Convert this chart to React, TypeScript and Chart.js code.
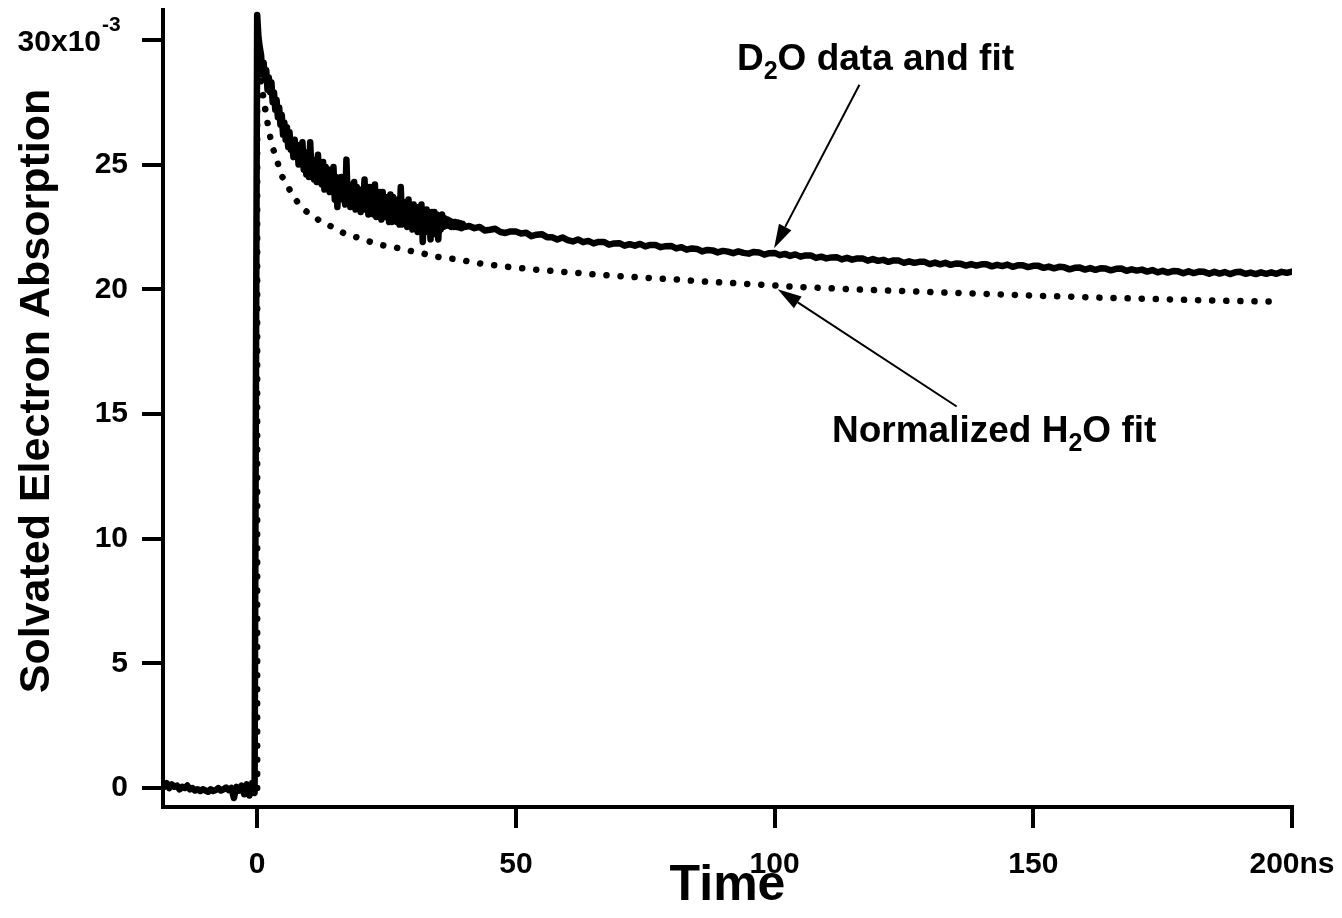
import { useEffect, useRef } from 'react';
import { Chart, registerables } from 'chart.js';
Chart.register(...registerables);

// Absorption values are in units of 1e-3
const baselineStart = -18;
const baselineStep = 0.5;
const baselineValues = [
  0.05, 0.2, 0.0, 0.15, 0.05, 0.1, -0.05, 0.05, 0.0, 0.1, -0.05, 0.0,
  -0.1, -0.05, -0.12, -0.05, -0.1, -0.15, -0.05, -0.12, -0.08, 0.0, -0.1, -0.05,
  0.02, -0.08, 0.0, -0.4, 0.05, -0.1, 0.1, -0.25, 0.15, -0.3, 0.2, -0.2,
];

const earlyStart = 0;
const earlyStep = 0.25;
const earlyValues = [
  31.0, 30.1, 29.7, 29.4,
  28.6, 29.1, 28.4, 28.8,
  28.0, 28.5, 27.9, 28.3,
  27.5, 27.9, 27.2, 27.6,
  26.9, 27.3, 26.6, 27.0,
  26.2, 26.7, 26.0, 26.5,
  25.7, 26.3, 25.6, 26.0,
  25.3, 26.0, 25.4, 25.8,
  25.0, 25.7, 25.1, 25.9,
  24.8, 25.5, 24.6, 25.3,
  24.5, 25.9, 24.7, 25.2,
  24.4, 25.0, 24.3, 25.4,
  24.3, 24.9, 24.2, 25.1,
  24.0, 24.9, 24.1, 24.8,
  23.9, 24.7, 24.0, 24.9,
  23.6, 24.5, 23.3, 24.4,
  23.6, 24.5, 23.7, 24.3,
  23.4, 25.2, 23.5, 24.2,
  23.3, 24.2, 23.4, 24.3,
  23.2, 24.1, 23.3, 24.0,
  23.1, 24.0, 23.3, 24.4,
  23.2, 23.9, 23.0, 24.1,
  23.1, 23.9, 23.0, 24.2,
  22.9, 23.8, 23.0, 23.9,
  22.8, 23.9, 22.9, 23.7,
  22.9, 23.6, 22.7, 23.8,
  22.7, 23.7, 22.8, 23.5,
  22.7, 23.6, 22.6, 24.1,
  22.6, 23.5, 22.8, 23.4,
  22.5, 23.6, 22.7, 23.3,
  22.4, 23.4, 22.6, 23.3,
  22.3, 23.2, 22.5, 23.4,
  21.9, 23.1, 22.4, 23.2,
  22.3, 23.0, 22.0, 23.1,
  22.2, 23.1, 22.3, 23.0,
  22.0, 22.9, 22.4, 23.0,
  22.5, 22.85, 22.55, 22.8,
  22.55, 22.75, 22.5, 22.7,
  22.5, 22.7, 22.5, 22.68,
  22.48, 22.65, 22.45, 22.62,
  22.5,
];

const lateStart = 41;
const lateStep = 1;
const lateValues = [
  22.54, 22.45, 22.5, 22.36, 22.39, 22.43, 22.3, 22.26, 22.32, 22.32,
  22.24, 22.27, 22.13, 22.19, 22.21, 22.09, 22.09, 22.0, 22.08, 21.97,
  21.92, 22.0, 21.89, 21.94, 21.84, 21.9, 21.9, 21.79, 21.84, 21.85,
  21.75, 21.81, 21.75, 21.82, 21.72, 21.78, 21.78, 21.69, 21.73, 21.74,
  21.64, 21.69, 21.59, 21.64, 21.62, 21.52, 21.58, 21.56, 21.48, 21.54,
  21.51, 21.45, 21.52, 21.46, 21.43, 21.5, 21.48, 21.39, 21.45, 21.46,
  21.37, 21.42, 21.34, 21.4, 21.31, 21.36, 21.36, 21.26, 21.31, 21.24,
  21.28, 21.29, 21.2, 21.26, 21.19, 21.24, 21.24, 21.15, 21.21, 21.14,
  21.18, 21.1, 21.16, 21.15, 21.06, 21.12, 21.06, 21.1, 21.1, 21.01,
  21.07, 21.0, 21.06, 20.98, 21.03, 21.02, 20.95, 21.01, 20.95, 21.0,
  21.0, 20.92, 20.98, 20.93, 20.99, 20.9, 20.96, 20.96, 20.89, 20.94,
  20.94, 20.86, 20.91, 20.84, 20.9, 20.88, 20.8, 20.86, 20.87, 20.79,
  20.85, 20.78, 20.84, 20.83, 20.76, 20.82, 20.83, 20.74, 20.8, 20.75,
  20.79, 20.71, 20.77, 20.68, 20.74, 20.67, 20.73, 20.72, 20.64, 20.72,
  20.65, 20.71, 20.7, 20.62, 20.7, 20.63, 20.69, 20.61, 20.68, 20.7,
  20.62, 20.67, 20.61, 20.68, 20.62, 20.68, 20.62, 20.7, 20.66, 20.71,
];

const fitTime = [
  0, 0, 0.3, 0.7, 1.2, 1.8, 2.8, 3.8, 4.6, 6, 6.9, 8.5, 10.2, 12.5, 15, 17.2,
  20, 22.2, 24.4, 26.7, 29, 31.5, 33.8, 38.7, 43.5, 48.5, 54.2, 60.5, 66, 73.7,
  79.7, 85.7, 91, 98.8, 104, 109.7, 115, 120.7, 126.3, 131.5, 137.3, 142.7,
  151, 156.6, 162, 168, 173.7, 178.3, 186.8, 192, 198,
];
const fitValue = [
  0, 30.0, 29.0, 28.3, 27.7, 26.9, 25.8, 25.2, 24.6, 24.1, 23.75, 23.3, 23.0, 22.7, 22.45, 22.2,
  22.04, 21.88, 21.76, 21.68, 21.56, 21.47, 21.33, 21.2, 21.02, 20.9, 20.78, 20.68, 20.58, 20.48,
  20.41, 20.32, 20.26, 20.17, 20.1, 20.05, 20.0, 19.96, 19.92, 19.88, 19.84, 19.8,
  19.74, 19.71, 19.67, 19.64, 19.61, 19.58, 19.54, 19.52, 19.5,
];

const xTicks = [0, 50, 100, 150, 200];
const xTickLabels = ['0', '50', '100', '150', '200ns'];
const yTicks = [0, 5, 10, 15, 20, 25, 30];
const yTickLabels = ['0', '5', '10', '15', '20', '25', ''];

const FONT = "'Liberation Sans', Arial, Helvetica, sans-serif";

function segment(start: number, step: number, values: number[]) {
  return values.map((v, i) => ({ x: start + i * step, y: v }));
}

type Part = { text: string; size: number; dy: number };

function drawRich(ctx: CanvasRenderingContext2D, parts: Part[], x: number, y: number) {
  let cx = x;
  for (const p of parts) {
    ctx.font = `bold ${p.size}px ${FONT}`;
    ctx.fillText(p.text, cx, y + p.dy);
    cx += ctx.measureText(p.text).width;
  }
}

function drawArrow(ctx: CanvasRenderingContext2D, x1: number, y1: number, x2: number, y2: number) {
  const ang = Math.atan2(y2 - y1, x2 - x1);
  const len = 24;
  const half = 7;
  const bx = x2 - len * Math.cos(ang);
  const by = y2 - len * Math.sin(ang);
  ctx.beginPath();
  ctx.moveTo(x1, y1);
  ctx.lineTo(bx, by);
  ctx.lineWidth = 2;
  ctx.strokeStyle = '#000';
  ctx.stroke();
  ctx.beginPath();
  ctx.moveTo(x2, y2);
  ctx.lineTo(bx + half * Math.sin(ang), by - half * Math.cos(ang));
  ctx.lineTo(bx - half * Math.sin(ang), by + half * Math.cos(ang));
  ctx.closePath();
  ctx.fillStyle = '#000';
  ctx.fill();
}

const annotationPlugin = {
  id: 'annotations',
  afterDraw(chart: any) {
    const ctx: CanvasRenderingContext2D = chart.ctx;
    const xs = chart.scales.x;
    const ys = chart.scales.y;
    const area = chart.chartArea;
    ctx.save();
    ctx.fillStyle = '#000';
    ctx.textAlign = 'left';
    ctx.textBaseline = 'alphabetic';

    // top y tick label with exponent
    const y30 = ys.getPixelForValue(30);
    ctx.font = `bold 30px ${FONT}`;
    ctx.textAlign = 'right';
    ctx.fillText('30x10', 101, y30 + 11);
    ctx.textAlign = 'left';
    ctx.font = `bold 21px ${FONT}`;
    ctx.fillText('-3', 102, y30 - 9);

    // y title
    ctx.save();
    ctx.translate(49, 391);
    ctx.rotate(-Math.PI / 2);
    ctx.font = `bold 43px ${FONT}`;
    ctx.textAlign = 'center';
    ctx.fillText('Solvated Electron Absorption', 0, 0);
    ctx.restore();

    // x title
    ctx.font = `bold 50px ${FONT}`;
    ctx.textAlign = 'center';
    ctx.fillText('Time', (area.left + area.right) / 2, 900);
    ctx.textAlign = 'left';

    // annotations
    drawRich(ctx, [
      { text: 'D', size: 37, dy: 0 },
      { text: '2', size: 25, dy: 9 },
      { text: 'O data and fit', size: 37, dy: 0 },
    ], 737, 70);
    drawRich(ctx, [
      { text: 'Normalized H', size: 37, dy: 0 },
      { text: '2', size: 25, dy: 9 },
      { text: 'O fit', size: 37, dy: 0 },
    ], 832, 442);

    drawArrow(ctx, xs.getPixelForValue(116.4), ys.getPixelForValue(28.2), xs.getPixelForValue(99.9), ys.getPixelForValue(21.65));
    drawArrow(ctx, xs.getPixelForValue(135.2), ys.getPixelForValue(15.3), xs.getPixelForValue(100.6), ys.getPixelForValue(20.0));
    ctx.restore();
  },
};

export default function App() {
  const ref = useRef<HTMLCanvasElement | null>(null);
  useEffect(() => {
    document.body.style.margin = '0';
    const canvas = ref.current!;
    const d2o = [
      ...segment(baselineStart, baselineStep, baselineValues),
      ...segment(earlyStart, earlyStep, earlyValues),
      ...segment(lateStart, lateStep, lateValues),
    ];
    const fit = fitTime.map((t, i) => ({ x: t, y: fitValue[i] }));
    const tickFont = { family: FONT, size: 30, weight: 'bold' as const };
    const chart = new Chart(canvas, {
      type: 'line',
      data: {
        datasets: [
          {
            label: 'D2O data and fit',
            data: d2o,
            borderColor: '#000',
            borderWidth: 6.5,
            pointRadius: 0,
            tension: 0,
            borderJoinStyle: 'round',
            borderCapStyle: 'round',
          },
          {
            label: 'Normalized H2O fit',
            data: fit,
            borderColor: '#000',
            borderWidth: 6.5,
            pointRadius: 0,
            tension: 0,
            borderDash: [0.1, 14],
            borderCapStyle: 'round',
          },
        ],
      },
      options: {
        animation: false,
        responsive: false,
        maintainAspectRatio: false,
        layout: { padding: { top: 10, right: 50, left: 0, bottom: 0 } },
        plugins: { legend: { display: false }, tooltip: { enabled: false } },
        scales: {
          x: {
            type: 'linear',
            min: -18.2,
            max: 200,
            afterBuildTicks: (s: any) => { s.ticks = xTicks.map((v) => ({ value: v })); },
            afterFit: (s: any) => { s.height = 111; s.paddingLeft = 0; s.paddingRight = 0; },
            grid: { drawOnChartArea: false, drawTicks: true, tickLength: 21, lineWidth: 4, color: '#000' },
            border: { display: true, width: 4, color: '#000' },
            ticks: {
              font: tickFont,
              color: '#000',
              padding: 19,
              maxRotation: 0,
              autoSkip: false,
              callback: (v: any) => xTickLabels[xTicks.indexOf(Number(v))] ?? '',
            },
          },
          y: {
            type: 'linear',
            min: -0.76,
            max: 31.2,
            afterBuildTicks: (s: any) => { s.ticks = yTicks.map((v) => ({ value: v })); },
            afterFit: (s: any) => { s.width = 163; s.paddingTop = 0; s.paddingBottom = 0; },
            grid: { drawOnChartArea: false, drawTicks: true, tickLength: 21, lineWidth: 4, color: '#000' },
            border: { display: true, width: 4, color: '#000' },
            ticks: {
              font: tickFont,
              color: '#000',
              padding: 14,
              autoSkip: false,
              callback: (v: any) => yTickLabels[yTicks.indexOf(Number(v))] ?? '',
            },
          },
        },
      },
      plugins: [annotationPlugin],
    });
    return () => chart.destroy();
  }, []);
  return <canvas ref={ref} width={1342} height={918} style={{ display: 'block' }} />;
}
